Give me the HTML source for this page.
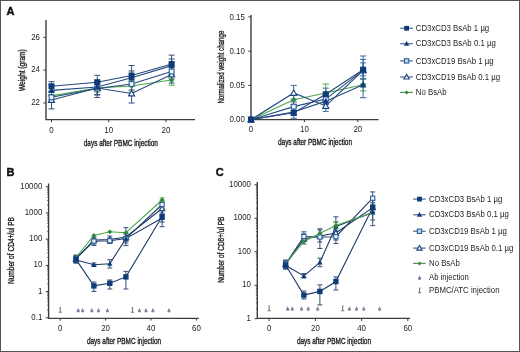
<!DOCTYPE html>
<html><head><meta charset="utf-8"><style>
html,body{margin:0;padding:0;background:#fff;overflow:hidden;width:520px;height:352px;}
svg{display:block;will-change:transform;font-family:"Liberation Sans",sans-serif;}
.t{stroke:#1e1e1e;stroke-width:0.35px;}
.L{stroke:#111;stroke-width:0.45px;}

</style></head><body>
<svg width="520" height="352" viewBox="0 0 520 352">
<rect x="0.5" y="0.5" width="519" height="351" fill="#fff" stroke="#555" stroke-width="1"/>
<text x="6.6" y="14.5" font-size="11" fill="#111" font-weight="bold" class="L">A</text>
<text x="6.6" y="175.8" font-size="11" fill="#111" font-weight="bold" class="L">B</text>
<text x="215.8" y="176" font-size="11" fill="#111" font-weight="bold" class="L">C</text>
<path d="M46 20V119.6H195" stroke="#3c3c3c" stroke-width="1.4" fill="none"/>
<path d="M43.3 37.3H46" stroke="#3c3c3c" stroke-width="1"/>
<text x="40" y="39.6" font-size="8.7" fill="#1e1e1e" text-anchor="end" textLength="8.79" lengthAdjust="spacingAndGlyphs">26</text>
<path d="M43.3 70.1H46" stroke="#3c3c3c" stroke-width="1"/>
<text x="40" y="72.4" font-size="8.7" fill="#1e1e1e" text-anchor="end" textLength="8.79" lengthAdjust="spacingAndGlyphs">24</text>
<path d="M43.3 103.0H46" stroke="#3c3c3c" stroke-width="1"/>
<text x="40" y="105.3" font-size="8.7" fill="#1e1e1e" text-anchor="end" textLength="8.79" lengthAdjust="spacingAndGlyphs">22</text>
<path d="M51.5 119.6V122.2" stroke="#3c3c3c" stroke-width="1"/>
<text x="51.5" y="132.6" font-size="8.7" fill="#1e1e1e" text-anchor="middle" textLength="4.39" lengthAdjust="spacingAndGlyphs">0</text>
<path d="M108.7 119.6V122.2" stroke="#3c3c3c" stroke-width="1"/>
<text x="108.7" y="132.6" font-size="8.7" fill="#1e1e1e" text-anchor="middle" textLength="8.79" lengthAdjust="spacingAndGlyphs">10</text>
<path d="M165.9 119.6V122.2" stroke="#3c3c3c" stroke-width="1"/>
<text x="165.9" y="132.6" font-size="8.7" fill="#1e1e1e" text-anchor="middle" textLength="8.79" lengthAdjust="spacingAndGlyphs">20</text>
<text x="83.8" y="145.6" font-size="8.5" fill="#1e1e1e" textLength="74" lengthAdjust="spacingAndGlyphs" class="t">days after PBMC injection</text>
<text x="25.1" y="91" font-size="8.8" fill="#1e1e1e" textLength="41.8" lengthAdjust="spacingAndGlyphs" transform="rotate(-90 25.1 91)" class="t">Weight (gram)</text>
<path d="M51.5 92V100M48.5 92H54.5M48.5 100H54.5" stroke="#4aa84a" stroke-width="1" fill="none"/>
<path d="M97.26 84V92M94.26 84H100.26M94.26 92H100.26" stroke="#4aa84a" stroke-width="1" fill="none"/>
<path d="M131.58 80V92M128.58 80H134.58M128.58 92H134.58" stroke="#4aa84a" stroke-width="1" fill="none"/>
<path d="M171.62 75V85.2M168.62 75H174.62M168.62 85.2H174.62" stroke="#4aa84a" stroke-width="1" fill="none"/>
<path d="M51.5 95V108.9M48.5 95H54.5M48.5 108.9H54.5" stroke="#34507a" stroke-width="1" fill="none"/>
<path d="M97.26 82V97.5M94.26 82H100.26M94.26 97.5H100.26" stroke="#34507a" stroke-width="1" fill="none"/>
<path d="M131.58 85V103M128.58 85H134.58M128.58 103H134.58" stroke="#34507a" stroke-width="1" fill="none"/>
<path d="M171.62 66V83M168.62 66H174.62M168.62 83H174.62" stroke="#34507a" stroke-width="1" fill="none"/>
<path d="M51.5 92V102M48.5 92H54.5M48.5 102H54.5" stroke="#34507a" stroke-width="1" fill="none"/>
<path d="M97.26 82V95M94.26 82H100.26M94.26 95H100.26" stroke="#34507a" stroke-width="1" fill="none"/>
<path d="M131.58 78V90M128.58 78H134.58M128.58 90H134.58" stroke="#34507a" stroke-width="1" fill="none"/>
<path d="M171.62 64V79M168.62 64H174.62M168.62 79H174.62" stroke="#34507a" stroke-width="1" fill="none"/>
<path d="M51.5 85V95M48.5 85H54.5M48.5 95H54.5" stroke="#34507a" stroke-width="1" fill="none"/>
<path d="M97.26 80V94.6M94.26 80H100.26M94.26 94.6H100.26" stroke="#34507a" stroke-width="1" fill="none"/>
<path d="M131.58 71V86M128.58 71H134.58M128.58 86H134.58" stroke="#34507a" stroke-width="1" fill="none"/>
<path d="M171.62 59V75M168.62 59H174.62M168.62 75H174.62" stroke="#34507a" stroke-width="1" fill="none"/>
<path d="M51.5 81.7V91M48.5 81.7H54.5M48.5 91H54.5" stroke="#34507a" stroke-width="1" fill="none"/>
<path d="M97.26 75.3V89M94.26 75.3H100.26M94.26 89H100.26" stroke="#34507a" stroke-width="1" fill="none"/>
<path d="M131.58 65.5V85M128.58 65.5H134.58M128.58 85H134.58" stroke="#34507a" stroke-width="1" fill="none"/>
<path d="M171.62 55.1V72M168.62 55.1H174.62M168.62 72H174.62" stroke="#34507a" stroke-width="1" fill="none"/>
<polyline points="51.5,95.9 97.26,88 131.58,86 171.62,80" fill="none" stroke="#4aa84a" stroke-width="1.1"/>
<polyline points="51.5,100 97.26,88 131.58,93.5 171.62,74.5" fill="none" stroke="#24497f" stroke-width="1.1"/>
<polyline points="51.5,97.3 97.26,88.5 131.58,84 171.62,71.5" fill="none" stroke="#24497f" stroke-width="1.1"/>
<polyline points="51.5,90.4 97.26,87 131.58,77.8 171.62,65.6" fill="none" stroke="#24497f" stroke-width="1.1"/>
<polyline points="51.5,86.3 97.26,82.3 131.58,75.5 171.62,64" fill="none" stroke="#24497f" stroke-width="1.1"/>
<path d="M51.5 93.2L54.2 95.9L51.5 98.6L48.8 95.9Z" fill="#2f8a3a"/>
<path d="M51.5 97L54.5 102.4L48.5 102.4Z" fill="#fff" stroke="#1f4580" stroke-width="1.15"/>
<rect x="49.1" y="94.9" width="4.8" height="4.8" fill="#eef4fb" stroke="#285a98" stroke-width="1.05"/>
<path d="M51.5 87.1L54.8 93.1L48.2 93.1Z" fill="#0f3c78"/>
<rect x="48.5" y="83.3" width="6" height="6" fill="#0f3c78"/>
<path d="M97.26 85.3L99.96 88L97.26 90.7L94.56 88Z" fill="#2f8a3a"/>
<path d="M97.26 85L100.26 90.4L94.26 90.4Z" fill="#fff" stroke="#1f4580" stroke-width="1.15"/>
<rect x="94.86" y="86.1" width="4.8" height="4.8" fill="#eef4fb" stroke="#285a98" stroke-width="1.05"/>
<path d="M97.26 83.7L100.56 89.7L93.96 89.7Z" fill="#0f3c78"/>
<rect x="94.26" y="79.3" width="6" height="6" fill="#0f3c78"/>
<path d="M131.58 83.3L134.28 86L131.58 88.7L128.88 86Z" fill="#2f8a3a"/>
<path d="M131.58 90.5L134.58 95.9L128.58 95.9Z" fill="#fff" stroke="#1f4580" stroke-width="1.15"/>
<rect x="129.18" y="81.6" width="4.8" height="4.8" fill="#eef4fb" stroke="#285a98" stroke-width="1.05"/>
<path d="M131.58 74.5L134.88 80.5L128.28 80.5Z" fill="#0f3c78"/>
<rect x="128.58" y="72.5" width="6" height="6" fill="#0f3c78"/>
<path d="M171.62 77.3L174.32 80L171.62 82.7L168.92 80Z" fill="#2f8a3a"/>
<path d="M171.62 71.5L174.62 76.9L168.62 76.9Z" fill="#fff" stroke="#1f4580" stroke-width="1.15"/>
<rect x="169.22" y="69.1" width="4.8" height="4.8" fill="#eef4fb" stroke="#285a98" stroke-width="1.05"/>
<path d="M171.62 62.3L174.92 68.3L168.32 68.3Z" fill="#0f3c78"/>
<rect x="168.62" y="61" width="6" height="6" fill="#0f3c78"/>
<path d="M251 15V119.6H378.5" stroke="#3c3c3c" stroke-width="1.4" fill="none"/>
<path d="M248.2 16.9H251" stroke="#3c3c3c" stroke-width="1"/>
<text x="244.8" y="19.6" font-size="8.7" fill="#1e1e1e" text-anchor="end" textLength="15.37" lengthAdjust="spacingAndGlyphs">0.15</text>
<path d="M248.2 51.2H251" stroke="#3c3c3c" stroke-width="1"/>
<text x="244.8" y="53.9" font-size="8.7" fill="#1e1e1e" text-anchor="end" textLength="15.37" lengthAdjust="spacingAndGlyphs">0.10</text>
<path d="M248.2 85.4H251" stroke="#3c3c3c" stroke-width="1"/>
<text x="244.8" y="88.1" font-size="8.7" fill="#1e1e1e" text-anchor="end" textLength="15.37" lengthAdjust="spacingAndGlyphs">0.05</text>
<path d="M248.2 119.6H251" stroke="#3c3c3c" stroke-width="1"/>
<text x="244.8" y="122.3" font-size="8.7" fill="#1e1e1e" text-anchor="end" textLength="15.37" lengthAdjust="spacingAndGlyphs">0.00</text>
<path d="M251 119.6V122.2" stroke="#3c3c3c" stroke-width="1"/>
<text x="251" y="132.4" font-size="8.7" fill="#1e1e1e" text-anchor="middle" textLength="4.39" lengthAdjust="spacingAndGlyphs">0</text>
<path d="M304.4 119.6V122.2" stroke="#3c3c3c" stroke-width="1"/>
<text x="304.4" y="132.4" font-size="8.7" fill="#1e1e1e" text-anchor="middle" textLength="8.79" lengthAdjust="spacingAndGlyphs">10</text>
<path d="M357.8 119.6V122.2" stroke="#3c3c3c" stroke-width="1"/>
<text x="357.8" y="132.4" font-size="8.7" fill="#1e1e1e" text-anchor="middle" textLength="8.79" lengthAdjust="spacingAndGlyphs">20</text>
<text x="278" y="145.2" font-size="8.5" fill="#1e1e1e" textLength="74" lengthAdjust="spacingAndGlyphs" class="t">days after PBMC injection</text>
<text x="223.6" y="103.6" font-size="8.8" fill="#1e1e1e" textLength="73" lengthAdjust="spacingAndGlyphs" transform="rotate(-90 223.6 103.6)" class="t">Normalized weight change</text>

<path d="M293.72 94.98V104.55M290.62 94.98H296.82M290.62 104.55H296.82" stroke="#4aa84a" stroke-width="1" fill="none"/>
<path d="M325.76 84.03V97.71M322.66 84.03H328.86M322.66 97.71H328.86" stroke="#4aa84a" stroke-width="1" fill="none"/>
<path d="M363.14 78.56V90.87M360.04 78.56H366.24M360.04 90.87H366.24" stroke="#4aa84a" stroke-width="1" fill="none"/>

<path d="M293.72 85.4V99.08M290.62 85.4H296.82M290.62 99.08H296.82" stroke="#3d68a3" stroke-width="1" fill="none"/>
<path d="M325.76 100.45V111.39M322.66 100.45H328.86M322.66 111.39H328.86" stroke="#3d68a3" stroke-width="1" fill="none"/>
<path d="M363.14 62.83V75.82M360.04 62.83H366.24M360.04 75.82H366.24" stroke="#3d68a3" stroke-width="1" fill="none"/>

<path d="M293.72 101.82V111.39M290.62 101.82H296.82M290.62 111.39H296.82" stroke="#3d68a3" stroke-width="1" fill="none"/>
<path d="M325.76 93.61V104.55M322.66 93.61H328.86M322.66 104.55H328.86" stroke="#3d68a3" stroke-width="1" fill="none"/>
<path d="M363.14 59.41V79.24M360.04 59.41H366.24M360.04 79.24H366.24" stroke="#3d68a3" stroke-width="1" fill="none"/>

<path d="M293.72 104.55V115.5M290.62 104.55H296.82M290.62 115.5H296.82" stroke="#3d68a3" stroke-width="1" fill="none"/>
<path d="M325.76 94.98V107.29M322.66 94.98H328.86M322.66 107.29H328.86" stroke="#3d68a3" stroke-width="1" fill="none"/>
<path d="M363.14 71.72V97.71M360.04 71.72H366.24M360.04 97.71H366.24" stroke="#3d68a3" stroke-width="1" fill="none"/>

<path d="M293.72 107.29V118.23M290.62 107.29H296.82M290.62 118.23H296.82" stroke="#3d68a3" stroke-width="1" fill="none"/>
<path d="M325.76 88.14V100.45M322.66 88.14H328.86M322.66 100.45H328.86" stroke="#3d68a3" stroke-width="1" fill="none"/>
<path d="M363.14 55.99V84.03M360.04 55.99H366.24M360.04 84.03H366.24" stroke="#3d68a3" stroke-width="1" fill="none"/>
<polyline points="251,119.6 293.72,99.76 325.76,92.92 363.14,84.72" fill="none" stroke="#4aa84a" stroke-width="1.1"/>
<polyline points="251,119.6 293.72,92.92 325.76,105.92 363.14,70.35" fill="none" stroke="#24497f" stroke-width="1.1"/>
<polyline points="251,119.6 293.72,106.6 325.76,99.08 363.14,70.35" fill="none" stroke="#24497f" stroke-width="1.1"/>
<polyline points="251,119.6 293.72,112.08 325.76,101.13 363.14,84.72" fill="none" stroke="#24497f" stroke-width="1.1"/>
<polyline points="251,119.6 293.72,112.76 325.76,94.29 363.14,69.67" fill="none" stroke="#24497f" stroke-width="1.1"/>
<path d="M251 116.9L253.7 119.6L251 122.3L248.3 119.6Z" fill="#2f8a3a"/>
<path d="M251 116.6L254 122L248 122Z" fill="#fff" stroke="#1f4580" stroke-width="1.15"/>
<rect x="248.6" y="117.2" width="4.8" height="4.8" fill="#eef4fb" stroke="#285a98" stroke-width="1.05"/>
<path d="M251 116.3L254.3 122.3L247.7 122.3Z" fill="#0f3c78"/>
<rect x="248" y="116.6" width="6" height="6" fill="#0f3c78"/>
<path d="M293.72 97.06L296.42 99.76L293.72 102.46L291.02 99.76Z" fill="#2f8a3a"/>
<path d="M293.72 89.92L296.72 95.32L290.72 95.32Z" fill="#fff" stroke="#1f4580" stroke-width="1.15"/>
<rect x="291.32" y="104.2" width="4.8" height="4.8" fill="#eef4fb" stroke="#285a98" stroke-width="1.05"/>
<path d="M293.72 108.78L297.02 114.78L290.42 114.78Z" fill="#0f3c78"/>
<rect x="290.72" y="109.76" width="6" height="6" fill="#0f3c78"/>
<path d="M325.76 90.22L328.46 92.92L325.76 95.62L323.06 92.92Z" fill="#2f8a3a"/>
<path d="M325.76 102.92L328.76 108.32L322.76 108.32Z" fill="#fff" stroke="#1f4580" stroke-width="1.15"/>
<rect x="323.36" y="96.68" width="4.8" height="4.8" fill="#eef4fb" stroke="#285a98" stroke-width="1.05"/>
<path d="M325.76 97.83L329.06 103.83L322.46 103.83Z" fill="#0f3c78"/>
<rect x="322.76" y="91.29" width="6" height="6" fill="#0f3c78"/>
<path d="M363.14 82.02L365.84 84.72L363.14 87.42L360.44 84.72Z" fill="#2f8a3a"/>
<path d="M363.14 67.35L366.14 72.75L360.14 72.75Z" fill="#fff" stroke="#1f4580" stroke-width="1.15"/>
<rect x="360.74" y="67.95" width="4.8" height="4.8" fill="#eef4fb" stroke="#285a98" stroke-width="1.05"/>
<path d="M363.14 81.42L366.44 87.42L359.84 87.42Z" fill="#0f3c78"/>
<rect x="360.14" y="66.67" width="6" height="6" fill="#0f3c78"/>
<path d="M400.2 28.3H412.8" stroke="#5a70a0" stroke-width="1.3"/>
<rect x="404.2" y="25.9" width="4.8" height="4.8" fill="#0f3c78"/>
<text x="415.8" y="31" font-size="8.3" fill="#1e1e1e" textLength="73.42" lengthAdjust="spacingAndGlyphs">CD3xCD3 BsAb 1 µg</text>
<path d="M400.2 43.7H412.8" stroke="#5a70a0" stroke-width="1.3"/>
<path d="M406.6 41L409.3 45.8L403.9 45.8Z" fill="#0f3c78"/>
<text x="415.8" y="46.4" font-size="8.3" fill="#1e1e1e" textLength="79.93" lengthAdjust="spacingAndGlyphs">CD3xCD3 BsAb 0.1 µg</text>
<path d="M400.2 60.9H412.8" stroke="#5a70a0" stroke-width="1.3"/>
<rect x="404.4" y="58.7" width="4.4" height="4.4" fill="#bcd5ee" stroke="#285a98" stroke-width="1.05"/>
<text x="415.8" y="63.6" font-size="8.3" fill="#1e1e1e" textLength="77.76" lengthAdjust="spacingAndGlyphs">CD3xCD19 BsAb 1 µg</text>
<path d="M400.2 77.0H412.8" stroke="#5a70a0" stroke-width="1.3"/>
<path d="M406.6 74.4L409.2 79L404 79Z" fill="#fff" stroke="#1f4580" stroke-width="1.15"/>
<text x="415.8" y="79.7" font-size="8.3" fill="#1e1e1e" textLength="84.26" lengthAdjust="spacingAndGlyphs">CD3xCD19 BsAb 0.1 µg</text>
<path d="M400.2 92.4H412.8" stroke="#5a945a" stroke-width="1.3"/>
<path d="M406.6 90.4L408.6 92.4L406.6 94.4L404.6 92.4Z" fill="#2f8a3a"/>
<text x="415.8" y="95.1" font-size="8.3" fill="#1e1e1e" textLength="30.78" lengthAdjust="spacingAndGlyphs">No BsAb</text>
<path d="M48.6 183.5V318.4H198.7" stroke="#3c3c3c" stroke-width="1.4" fill="none"/>
<path d="M45.8 186.8H48.6" stroke="#3c3c3c" stroke-width="1"/>
<text x="42.3" y="188.8" font-size="8.7" fill="#1e1e1e" text-anchor="end" textLength="21.97" lengthAdjust="spacingAndGlyphs">10000</text>
<path d="M45.8 212.99H48.6" stroke="#3c3c3c" stroke-width="1"/>
<text x="42.3" y="214.99" font-size="8.7" fill="#1e1e1e" text-anchor="end" textLength="17.57" lengthAdjust="spacingAndGlyphs">1000</text>
<path d="M45.8 239.18H48.6" stroke="#3c3c3c" stroke-width="1"/>
<text x="42.3" y="241.18" font-size="8.7" fill="#1e1e1e" text-anchor="end" textLength="13.18" lengthAdjust="spacingAndGlyphs">100</text>
<path d="M45.8 265.37H48.6" stroke="#3c3c3c" stroke-width="1"/>
<text x="42.3" y="267.37" font-size="8.7" fill="#1e1e1e" text-anchor="end" textLength="8.79" lengthAdjust="spacingAndGlyphs">10</text>
<path d="M45.8 291.56H48.6" stroke="#3c3c3c" stroke-width="1"/>
<text x="42.3" y="293.56" font-size="8.7" fill="#1e1e1e" text-anchor="end" textLength="4.39" lengthAdjust="spacingAndGlyphs">1</text>
<path d="M45.8 317.75H48.6" stroke="#3c3c3c" stroke-width="1"/>
<text x="42.3" y="319.75" font-size="8.7" fill="#1e1e1e" text-anchor="end" textLength="10.98" lengthAdjust="spacingAndGlyphs">0.1</text>
<path d="M47.2 309.87H48.6M47.2 305.25H48.6M47.2 301.98H48.6M47.2 299.44H48.6M47.2 297.37H48.6M47.2 295.62H48.6M47.2 294.1H48.6M47.2 292.76H48.6M47.2 283.68H48.6M47.2 279.06H48.6M47.2 275.79H48.6M47.2 273.25H48.6M47.2 271.18H48.6M47.2 269.43H48.6M47.2 267.91H48.6M47.2 266.57H48.6M47.2 257.49H48.6M47.2 252.87H48.6M47.2 249.6H48.6M47.2 247.06H48.6M47.2 244.99H48.6M47.2 243.24H48.6M47.2 241.72H48.6M47.2 240.38H48.6M47.2 231.3H48.6M47.2 226.68H48.6M47.2 223.41H48.6M47.2 220.87H48.6M47.2 218.8H48.6M47.2 217.05H48.6M47.2 215.53H48.6M47.2 214.19H48.6M47.2 205.11H48.6M47.2 200.49H48.6M47.2 197.22H48.6M47.2 194.68H48.6M47.2 192.61H48.6M47.2 190.86H48.6M47.2 189.34H48.6M47.2 188H48.6" stroke="#3c3c3c" stroke-width="0.8"/>
<path d="M60.2 318.4V320.6" stroke="#3c3c3c" stroke-width="1"/>
<text x="60.2" y="330.9" font-size="8.7" fill="#1e1e1e" text-anchor="middle" textLength="4.39" lengthAdjust="spacingAndGlyphs">0</text>
<path d="M105.6 318.4V320.6" stroke="#3c3c3c" stroke-width="1"/>
<text x="105.6" y="330.9" font-size="8.7" fill="#1e1e1e" text-anchor="middle" textLength="8.79" lengthAdjust="spacingAndGlyphs">20</text>
<path d="M151 318.4V320.6" stroke="#3c3c3c" stroke-width="1"/>
<text x="151" y="330.9" font-size="8.7" fill="#1e1e1e" text-anchor="middle" textLength="8.79" lengthAdjust="spacingAndGlyphs">40</text>
<path d="M196.4 318.4V320.6" stroke="#3c3c3c" stroke-width="1"/>
<text x="196.4" y="330.9" font-size="8.7" fill="#1e1e1e" text-anchor="middle" textLength="8.79" lengthAdjust="spacingAndGlyphs">60</text>
<text x="86.9" y="343.9" font-size="8.5" fill="#1e1e1e" textLength="74.2" lengthAdjust="spacingAndGlyphs" class="t">days after PBMC injection</text>
<text x="14" y="284.1" font-size="8.8" fill="#1e1e1e" textLength="67" lengthAdjust="spacingAndGlyphs" transform="rotate(-90 14 284.1)" class="t">Number of CD4+/ul PB</text>
<path d="M76 256V262M73.5 256H78.5M73.5 262H78.5" stroke="#34507a" stroke-width="1" fill="none"/>
<path d="M93.9 237V244M91.4 237H96.4M91.4 244H96.4" stroke="#34507a" stroke-width="1" fill="none"/>
<path d="M109.8 236V243M107.3 236H112.3M107.3 243H112.3" stroke="#34507a" stroke-width="1" fill="none"/>
<path d="M125.9 233V241M123.4 233H128.4M123.4 241H128.4" stroke="#34507a" stroke-width="1" fill="none"/>
<path d="M162.1 204V213M159.6 204H164.6M159.6 213H164.6" stroke="#34507a" stroke-width="1" fill="none"/>
<path d="M76 255V262M73.5 255H78.5M73.5 262H78.5" stroke="#34507a" stroke-width="1" fill="none"/>
<path d="M93.9 238V245.5M91.4 238H96.4M91.4 245.5H96.4" stroke="#34507a" stroke-width="1" fill="none"/>
<path d="M109.8 238V243.5M107.3 238H112.3M107.3 243.5H112.3" stroke="#34507a" stroke-width="1" fill="none"/>
<path d="M125.9 227.7V245.6M123.4 227.7H128.4M123.4 245.6H128.4" stroke="#34507a" stroke-width="1" fill="none"/>
<path d="M162.1 201V209M159.6 201H164.6M159.6 209H164.6" stroke="#34507a" stroke-width="1" fill="none"/>
<path d="M76 257V263M73.5 257H78.5M73.5 263H78.5" stroke="#34507a" stroke-width="1" fill="none"/>
<path d="M93.9 263V266M91.4 263H96.4M91.4 266H96.4" stroke="#34507a" stroke-width="1" fill="none"/>
<path d="M109.8 259.7V268M107.3 259.7H112.3M107.3 268H112.3" stroke="#34507a" stroke-width="1" fill="none"/>
<path d="M125.9 234V243M123.4 234H128.4M123.4 243H128.4" stroke="#34507a" stroke-width="1" fill="none"/>
<path d="M162.1 210V222M159.6 210H164.6M159.6 222H164.6" stroke="#34507a" stroke-width="1" fill="none"/>
<path d="M76 256V263M73.5 256H78.5M73.5 263H78.5" stroke="#34507a" stroke-width="1" fill="none"/>
<path d="M93.9 282V291.4M91.4 282H96.4M91.4 291.4H96.4" stroke="#34507a" stroke-width="1" fill="none"/>
<path d="M109.8 280V289M107.3 280H112.3M107.3 289H112.3" stroke="#34507a" stroke-width="1" fill="none"/>
<path d="M125.9 271.4V289M123.4 271.4H128.4M123.4 289H128.4" stroke="#34507a" stroke-width="1" fill="none"/>
<path d="M162.1 208V226.7M159.6 208H164.6M159.6 226.7H164.6" stroke="#34507a" stroke-width="1" fill="none"/>




<path d="M162.1 197.9V202M159.6 197.9H164.6M159.6 202H164.6" stroke="#4aa84a" stroke-width="1" fill="none"/>
<polyline points="76,259 93.9,240 109.8,239.5 125.9,237 162.1,208.5" fill="none" stroke="#1e3a68" stroke-width="1.1"/>
<polyline points="76,258.5 93.9,241.1 109.8,240.8 125.9,238.6 162.1,204.5" fill="none" stroke="#1e3a68" stroke-width="1.1"/>
<polyline points="76,260 93.9,264.8 109.8,263.7 125.9,238.6 162.1,218" fill="none" stroke="#1e3a68" stroke-width="1.1"/>
<polyline points="76,259.4 93.9,285.9 109.8,283.3 125.9,276.9 162.1,216.5" fill="none" stroke="#1e3a68" stroke-width="1.1"/>
<polyline points="76,257.5 93.9,235.4 109.8,231.8 125.9,232.7 162.1,200" fill="none" stroke="#4aa84a" stroke-width="1.1"/>
<path d="M76 255.1L78.4 257.5L76 259.9L73.6 257.5Z" fill="#2f8a3a"/>
<path d="M76 256.3L78.7 261.1L73.3 261.1Z" fill="#fff" stroke="#1f4580" stroke-width="1.15"/>
<rect x="73.9" y="256.4" width="4.2" height="4.2" fill="#eef4fb" stroke="#285a98" stroke-width="1.05"/>
<path d="M76 257.3L78.7 262.1L73.3 262.1Z" fill="#0f3c78"/>
<rect x="73.3" y="256.7" width="5.4" height="5.4" fill="#0f3c78"/>
<path d="M93.9 237.3L96.6 242.1L91.2 242.1Z" fill="#fff" stroke="#1f4580" stroke-width="1.15"/>
<rect x="91.8" y="239" width="4.2" height="4.2" fill="#eef4fb" stroke="#285a98" stroke-width="1.05"/>
<path d="M93.9 262.1L96.6 266.9L91.2 266.9Z" fill="#0f3c78"/>
<rect x="91.2" y="283.2" width="5.4" height="5.4" fill="#0f3c78"/>
<path d="M93.9 233L96.3 235.4L93.9 237.8L91.5 235.4Z" fill="#2f8a3a"/>
<path d="M109.8 236.8L112.5 241.6L107.1 241.6Z" fill="#fff" stroke="#1f4580" stroke-width="1.15"/>
<rect x="107.7" y="238.7" width="4.2" height="4.2" fill="#eef4fb" stroke="#285a98" stroke-width="1.05"/>
<path d="M109.8 261L112.5 265.8L107.1 265.8Z" fill="#0f3c78"/>
<rect x="107.1" y="280.6" width="5.4" height="5.4" fill="#0f3c78"/>
<path d="M109.8 229.4L112.2 231.8L109.8 234.2L107.4 231.8Z" fill="#2f8a3a"/>
<path d="M125.9 234.3L128.6 239.1L123.2 239.1Z" fill="#fff" stroke="#1f4580" stroke-width="1.15"/>
<rect x="123.8" y="236.5" width="4.2" height="4.2" fill="#eef4fb" stroke="#285a98" stroke-width="1.05"/>
<path d="M125.9 235.9L128.6 240.7L123.2 240.7Z" fill="#0f3c78"/>
<rect x="123.2" y="274.2" width="5.4" height="5.4" fill="#0f3c78"/>
<path d="M125.9 230.3L128.3 232.7L125.9 235.1L123.5 232.7Z" fill="#2f8a3a"/>
<path d="M162.1 205.8L164.8 210.6L159.4 210.6Z" fill="#fff" stroke="#1f4580" stroke-width="1.15"/>
<rect x="160" y="202.4" width="4.2" height="4.2" fill="#eef4fb" stroke="#285a98" stroke-width="1.05"/>
<path d="M162.1 215.3L164.8 220.1L159.4 220.1Z" fill="#0f3c78"/>
<rect x="159.4" y="213.8" width="5.4" height="5.4" fill="#0f3c78"/>
<path d="M162.1 197.6L164.5 200L162.1 202.4L159.7 200Z" fill="#2f8a3a"/>
<path d="M78.2 307.9L79.8 311.1Q80.1 312.4 78.2 312.4Q76.3 312.4 76.6 311.1Z" fill="#8079a6"/>
<path d="M82.6 307.9L84.2 311.1Q84.5 312.4 82.6 312.4Q80.7 312.4 81 311.1Z" fill="#80859a"/>
<path d="M91.8 307.9L93.4 311.1Q93.7 312.4 91.8 312.4Q89.9 312.4 90.2 311.1Z" fill="#80859a"/>
<path d="M98.5 307.9L100.1 311.1Q100.4 312.4 98.5 312.4Q96.6 312.4 96.9 311.1Z" fill="#80859a"/>
<path d="M107.4 307.9L109 311.1Q109.3 312.4 107.4 312.4Q105.5 312.4 105.8 311.1Z" fill="#80859a"/>
<path d="M139.4 307.9L141 311.1Q141.3 312.4 139.4 312.4Q137.5 312.4 137.8 311.1Z" fill="#80859a"/>
<path d="M146 307.9L147.6 311.1Q147.9 312.4 146 312.4Q144.1 312.4 144.4 311.1Z" fill="#80859a"/>
<path d="M152.9 307.9L154.5 311.1Q154.8 312.4 152.9 312.4Q151 312.4 151.3 311.1Z" fill="#80859a"/>
<path d="M169 307.9L170.6 311.1Q170.9 312.4 169 312.4Q167.1 312.4 167.4 311.1Z" fill="#80859a"/>
<path d="M60.2 307.2V312.6M58.6 312.3H61.8M59.5 307.6H60.9" stroke="#7a7a7a" stroke-width="1.1" fill="none"/>
<path d="M132.5 307.2V312.6M130.9 312.3H134.1M131.8 307.6H133.2" stroke="#7a7a7a" stroke-width="1.1" fill="none"/>
<path d="M257.3 181.9V318.4H410" stroke="#3c3c3c" stroke-width="1.4" fill="none"/>
<path d="M254.5 184.75H257.3" stroke="#3c3c3c" stroke-width="1"/>
<text x="251" y="186.75" font-size="8.7" fill="#1e1e1e" text-anchor="end" textLength="21.97" lengthAdjust="spacingAndGlyphs">10000</text>
<path d="M254.5 218.25H257.3" stroke="#3c3c3c" stroke-width="1"/>
<text x="251" y="220.25" font-size="8.7" fill="#1e1e1e" text-anchor="end" textLength="17.57" lengthAdjust="spacingAndGlyphs">1000</text>
<path d="M254.5 251.75H257.3" stroke="#3c3c3c" stroke-width="1"/>
<text x="251" y="253.75" font-size="8.7" fill="#1e1e1e" text-anchor="end" textLength="13.18" lengthAdjust="spacingAndGlyphs">100</text>
<path d="M254.5 285.25H257.3" stroke="#3c3c3c" stroke-width="1"/>
<text x="251" y="287.25" font-size="8.7" fill="#1e1e1e" text-anchor="end" textLength="8.79" lengthAdjust="spacingAndGlyphs">10</text>
<path d="M254.5 318.75H257.3" stroke="#3c3c3c" stroke-width="1"/>
<text x="251" y="320.75" font-size="8.7" fill="#1e1e1e" text-anchor="end" textLength="4.39" lengthAdjust="spacingAndGlyphs">1</text>
<path d="M255.9 308.67H257.3M255.9 302.77H257.3M255.9 298.58H257.3M255.9 295.33H257.3M255.9 292.68H257.3M255.9 290.44H257.3M255.9 288.5H257.3M255.9 286.78H257.3M255.9 275.17H257.3M255.9 269.27H257.3M255.9 265.08H257.3M255.9 261.83H257.3M255.9 259.18H257.3M255.9 256.94H257.3M255.9 255H257.3M255.9 253.28H257.3M255.9 241.67H257.3M255.9 235.77H257.3M255.9 231.58H257.3M255.9 228.33H257.3M255.9 225.68H257.3M255.9 223.44H257.3M255.9 221.5H257.3M255.9 219.78H257.3M255.9 208.17H257.3M255.9 202.27H257.3M255.9 198.08H257.3M255.9 194.83H257.3M255.9 192.18H257.3M255.9 189.94H257.3M255.9 188H257.3M255.9 186.28H257.3" stroke="#3c3c3c" stroke-width="0.8"/>
<path d="M269.2 318.4V321" stroke="#3c3c3c" stroke-width="1"/>
<text x="269.2" y="331" font-size="8.7" fill="#1e1e1e" text-anchor="middle" textLength="4.39" lengthAdjust="spacingAndGlyphs">0</text>
<path d="M315.4 318.4V321" stroke="#3c3c3c" stroke-width="1"/>
<text x="315.4" y="331" font-size="8.7" fill="#1e1e1e" text-anchor="middle" textLength="8.79" lengthAdjust="spacingAndGlyphs">20</text>
<path d="M361.6 318.4V321" stroke="#3c3c3c" stroke-width="1"/>
<text x="361.6" y="331" font-size="8.7" fill="#1e1e1e" text-anchor="middle" textLength="8.79" lengthAdjust="spacingAndGlyphs">40</text>
<path d="M407.8 318.4V321" stroke="#3c3c3c" stroke-width="1"/>
<text x="407.8" y="331" font-size="8.7" fill="#1e1e1e" text-anchor="middle" textLength="8.79" lengthAdjust="spacingAndGlyphs">60</text>
<text x="296.9" y="343.8" font-size="8.5" fill="#1e1e1e" textLength="74.1" lengthAdjust="spacingAndGlyphs" class="t">days after PBMC injection</text>
<text x="223.6" y="282.8" font-size="8.8" fill="#1e1e1e" textLength="66.1" lengthAdjust="spacingAndGlyphs" transform="rotate(-90 223.6 282.8)" class="t">Number of CD8+/ul PB</text>
<path d="M285.6 261V268M283.1 261H288.1M283.1 268H288.1" stroke="#34507a" stroke-width="1" fill="none"/>
<path d="M303.9 234V244M301.4 234H306.4M301.4 244H306.4" stroke="#34507a" stroke-width="1" fill="none"/>
<path d="M319.9 230V242M317.4 230H322.4M317.4 242H322.4" stroke="#34507a" stroke-width="1" fill="none"/>
<path d="M335.9 226V240M333.4 226H338.4M333.4 240H338.4" stroke="#34507a" stroke-width="1" fill="none"/>
<path d="M372.7 202.8V212M370.2 202.8H375.2M370.2 212H375.2" stroke="#34507a" stroke-width="1" fill="none"/>
<path d="M285.6 260V268M283.1 260H288.1M283.1 268H288.1" stroke="#34507a" stroke-width="1" fill="none"/>
<path d="M303.9 231.8V241M301.4 231.8H306.4M301.4 241H306.4" stroke="#34507a" stroke-width="1" fill="none"/>
<path d="M319.9 228.8V248.5M317.4 228.8H322.4M317.4 248.5H322.4" stroke="#34507a" stroke-width="1" fill="none"/>
<path d="M335.9 216.8V243.6M333.4 216.8H338.4M333.4 243.6H338.4" stroke="#34507a" stroke-width="1" fill="none"/>
<path d="M372.7 191.9V206M370.2 191.9H375.2M370.2 206H375.2" stroke="#34507a" stroke-width="1" fill="none"/>
<path d="M285.6 262V269M283.1 262H288.1M283.1 269H288.1" stroke="#34507a" stroke-width="1" fill="none"/>
<path d="M303.9 273.5V278M301.4 273.5H306.4M301.4 278H306.4" stroke="#34507a" stroke-width="1" fill="none"/>
<path d="M319.9 258.2V266.7M317.4 258.2H322.4M317.4 266.7H322.4" stroke="#34507a" stroke-width="1" fill="none"/>
<path d="M335.9 222V231M333.4 222H338.4M333.4 231H338.4" stroke="#34507a" stroke-width="1" fill="none"/>
<path d="M372.7 205V220M370.2 205H375.2M370.2 220H375.2" stroke="#34507a" stroke-width="1" fill="none"/>
<path d="M285.6 261V269M283.1 261H288.1M283.1 269H288.1" stroke="#34507a" stroke-width="1" fill="none"/>
<path d="M303.9 291V299M301.4 291H306.4M301.4 299H306.4" stroke="#34507a" stroke-width="1" fill="none"/>
<path d="M319.9 284.9V304.9M317.4 284.9H322.4M317.4 304.9H322.4" stroke="#34507a" stroke-width="1" fill="none"/>
<path d="M335.9 276.9V290M333.4 276.9H338.4M333.4 290H338.4" stroke="#34507a" stroke-width="1" fill="none"/>
<path d="M372.7 200V225.7M370.2 200H375.2M370.2 225.7H375.2" stroke="#34507a" stroke-width="1" fill="none"/>



<path d="M335.9 222V229M333.4 222H338.4M333.4 229H338.4" stroke="#4aa84a" stroke-width="1" fill="none"/>

<polyline points="285.6,264.5 303.9,239 319.9,236 335.9,233 372.7,207.6" fill="none" stroke="#1e3a68" stroke-width="1.1"/>
<polyline points="285.6,264 303.9,236.5 319.9,237 335.9,236.7 372.7,198.2" fill="none" stroke="#1e3a68" stroke-width="1.1"/>
<polyline points="285.6,265.5 303.9,275.9 319.9,262.3 335.9,226.5 372.7,212.5" fill="none" stroke="#1e3a68" stroke-width="1.1"/>
<polyline points="285.6,265 303.9,295.1 319.9,291.4 335.9,281.5 372.7,207.4" fill="none" stroke="#1e3a68" stroke-width="1.1"/>
<polyline points="285.6,263.5 303.9,241.5 319.9,233.3 335.9,225.5 372.7,212.5" fill="none" stroke="#4aa84a" stroke-width="1.1"/>
<path d="M285.6 261.1L288 263.5L285.6 265.9L283.2 263.5Z" fill="#2f8a3a"/>
<path d="M285.6 261.8L288.3 266.6L282.9 266.6Z" fill="#fff" stroke="#1f4580" stroke-width="1.15"/>
<rect x="283.5" y="261.9" width="4.2" height="4.2" fill="#eef4fb" stroke="#285a98" stroke-width="1.05"/>
<path d="M285.6 262.8L288.3 267.6L282.9 267.6Z" fill="#0f3c78"/>
<rect x="282.9" y="262.3" width="5.4" height="5.4" fill="#0f3c78"/>
<path d="M303.9 236.3L306.6 241.1L301.2 241.1Z" fill="#fff" stroke="#1f4580" stroke-width="1.15"/>
<rect x="301.8" y="234.4" width="4.2" height="4.2" fill="#eef4fb" stroke="#285a98" stroke-width="1.05"/>
<path d="M303.9 273.2L306.6 278L301.2 278Z" fill="#0f3c78"/>
<rect x="301.2" y="292.4" width="5.4" height="5.4" fill="#0f3c78"/>
<path d="M303.9 239.1L306.3 241.5L303.9 243.9L301.5 241.5Z" fill="#2f8a3a"/>
<path d="M319.9 233.3L322.6 238.1L317.2 238.1Z" fill="#fff" stroke="#1f4580" stroke-width="1.15"/>
<rect x="317.8" y="234.9" width="4.2" height="4.2" fill="#eef4fb" stroke="#285a98" stroke-width="1.05"/>
<path d="M319.9 259.6L322.6 264.4L317.2 264.4Z" fill="#0f3c78"/>
<rect x="317.2" y="288.7" width="5.4" height="5.4" fill="#0f3c78"/>
<path d="M319.9 230.9L322.3 233.3L319.9 235.7L317.5 233.3Z" fill="#2f8a3a"/>
<path d="M335.9 230.3L338.6 235.1L333.2 235.1Z" fill="#fff" stroke="#1f4580" stroke-width="1.15"/>
<rect x="333.8" y="234.6" width="4.2" height="4.2" fill="#eef4fb" stroke="#285a98" stroke-width="1.05"/>
<path d="M335.9 223.8L338.6 228.6L333.2 228.6Z" fill="#0f3c78"/>
<rect x="333.2" y="278.8" width="5.4" height="5.4" fill="#0f3c78"/>
<path d="M335.9 223.1L338.3 225.5L335.9 227.9L333.5 225.5Z" fill="#2f8a3a"/>
<path d="M372.7 210.1L375.1 212.5L372.7 214.9L370.3 212.5Z" fill="#2f8a3a"/>
<path d="M372.7 204.9L375.4 209.7L370 209.7Z" fill="#fff" stroke="#1f4580" stroke-width="1.15"/>
<rect x="370.6" y="196.1" width="4.2" height="4.2" fill="#eef4fb" stroke="#285a98" stroke-width="1.05"/>
<path d="M372.7 209.8L375.4 214.6L370 214.6Z" fill="#0f3c78"/>
<rect x="370" y="204.7" width="5.4" height="5.4" fill="#0f3c78"/>
<path d="M287.7 306.2L289.3 309.4Q289.6 310.7 287.7 310.7Q285.8 310.7 286.1 309.4Z" fill="#8079a6"/>
<path d="M292.3 306.2L293.9 309.4Q294.2 310.7 292.3 310.7Q290.4 310.7 290.7 309.4Z" fill="#80859a"/>
<path d="M301.5 306.2L303.1 309.4Q303.4 310.7 301.5 310.7Q299.6 310.7 299.9 309.4Z" fill="#80859a"/>
<path d="M308.2 306.2L309.8 309.4Q310.1 310.7 308.2 310.7Q306.3 310.7 306.6 309.4Z" fill="#80859a"/>
<path d="M317.7 306.2L319.3 309.4Q319.6 310.7 317.7 310.7Q315.8 310.7 316.1 309.4Z" fill="#80859a"/>
<path d="M349.4 306.2L351 309.4Q351.3 310.7 349.4 310.7Q347.5 310.7 347.8 309.4Z" fill="#80859a"/>
<path d="M356.5 306.2L358.1 309.4Q358.4 310.7 356.5 310.7Q354.6 310.7 354.9 309.4Z" fill="#80859a"/>
<path d="M363.8 306.2L365.4 309.4Q365.7 310.7 363.8 310.7Q361.9 310.7 362.2 309.4Z" fill="#80859a"/>
<path d="M379.6 306.2L381.2 309.4Q381.5 310.7 379.6 310.7Q377.7 310.7 378 309.4Z" fill="#80859a"/>
<path d="M269.2 305.6V311M267.6 310.7H270.8M268.5 306H269.9" stroke="#7a7a7a" stroke-width="1.1" fill="none"/>
<path d="M342.7 305.6V311M341.1 310.7H344.3M342 306H343.4" stroke="#7a7a7a" stroke-width="1.1" fill="none"/>
<path d="M413.1 199.1H425.6" stroke="#5a70a0" stroke-width="1.3"/>
<rect x="417.1" y="196.7" width="4.8" height="4.8" fill="#0f3c78"/>
<text x="429" y="201.8" font-size="8.3" fill="#1e1e1e" textLength="73.42" lengthAdjust="spacingAndGlyphs">CD3xCD3 BsAb 1 µg</text>
<path d="M413.1 214.75H425.6" stroke="#5a70a0" stroke-width="1.3"/>
<path d="M419.5 212.05L422.2 216.85L416.8 216.85Z" fill="#0f3c78"/>
<text x="429" y="217.45" font-size="8.3" fill="#1e1e1e" textLength="79.93" lengthAdjust="spacingAndGlyphs">CD3xCD3 BsAb 0.1 µg</text>
<path d="M413.1 231.25H425.6" stroke="#5a70a0" stroke-width="1.3"/>
<rect x="417.3" y="229.05" width="4.4" height="4.4" fill="#bcd5ee" stroke="#285a98" stroke-width="1.05"/>
<text x="429" y="233.95" font-size="8.3" fill="#1e1e1e" textLength="77.76" lengthAdjust="spacingAndGlyphs">CD3xCD19 BsAb 1 µg</text>
<path d="M413.1 248.1H425.6" stroke="#5a70a0" stroke-width="1.3"/>
<path d="M419.5 245.5L422.1 250.1L416.9 250.1Z" fill="#fff" stroke="#1f4580" stroke-width="1.15"/>
<text x="429" y="250.8" font-size="8.3" fill="#1e1e1e" textLength="84.26" lengthAdjust="spacingAndGlyphs">CD3xCD19 BsAb 0.1 µg</text>
<path d="M413.1 263.4H425.6" stroke="#5a945a" stroke-width="1.3"/>
<path d="M419.5 261.4L421.5 263.4L419.5 265.4L417.5 263.4Z" fill="#2f8a3a"/>
<text x="429" y="266.1" font-size="8.3" fill="#1e1e1e" textLength="30.78" lengthAdjust="spacingAndGlyphs">No BsAb</text>
<path d="M419.6 275.4L421.2 278.6Q421.5 279.9 419.6 279.9Q417.7 279.9 418 278.6Z" fill="#7d76a0"/>
<text x="429" y="279.8" font-size="8.3" fill="#1e1e1e" textLength="39.81" lengthAdjust="spacingAndGlyphs">Ab injection</text>
<path d="M419.6 287.6V293M418 292.7H421.2M418.9 288H420.3" stroke="#7a7a7a" stroke-width="1.1" fill="none"/>
<text x="429" y="293.1" font-size="8.3" fill="#1e1e1e" textLength="70.51" lengthAdjust="spacingAndGlyphs">PBMC/ATC injection</text>
</svg>
</body></html>
